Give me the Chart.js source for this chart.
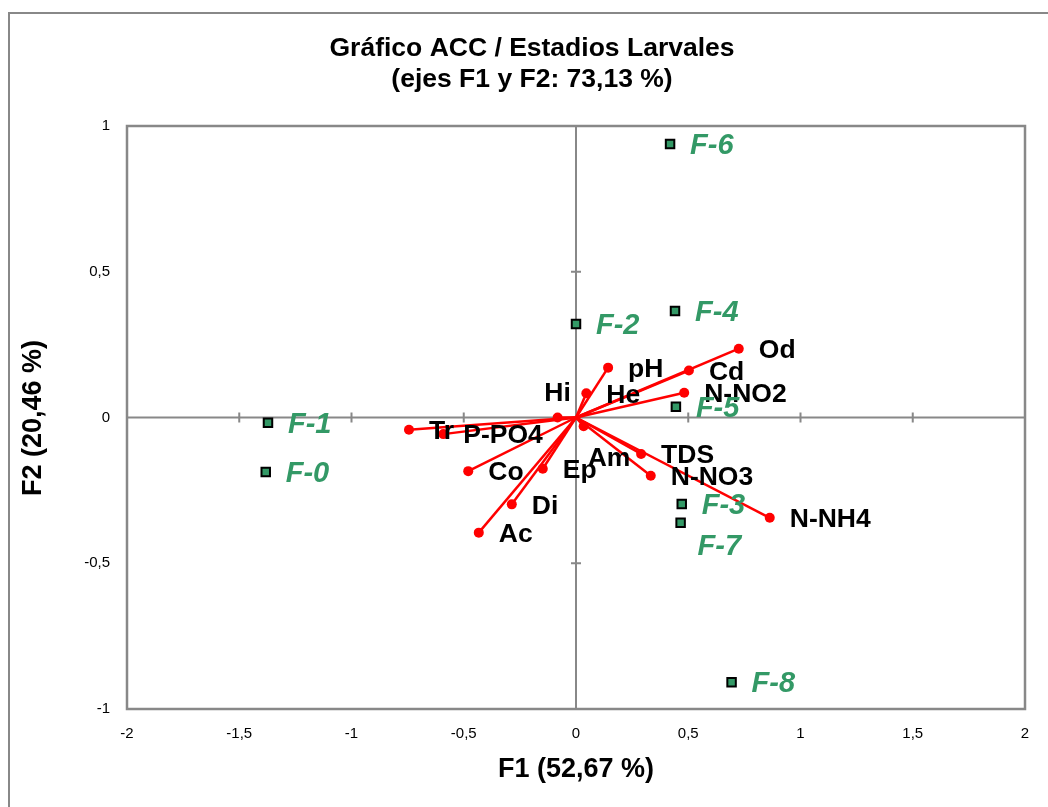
<!DOCTYPE html>
<html>
<head>
<meta charset="utf-8">
<script src="https://cdn.jsdelivr.net/npm/chart.js@4"></script>
<style>
  html, body { margin: 0; padding: 0; background: #fff; }
  #wrap { width: 1048px; height: 807px; }
</style>
</head>
<body>
<div id="wrap"><canvas id="accChart" width="1048" height="807"></canvas></div>
<script>
// sites (estaciones)
const siteLabels = ['F-0', 'F-1', 'F-2', 'F-3', 'F-4', 'F-5', 'F-6', 'F-7', 'F-8'];
const siteF1 = [-1.382, -1.372, 0.000, 0.471, 0.441, 0.445, 0.419, 0.466, 0.693];
const siteF2 = [-0.187, -0.018, 0.321, -0.297, 0.365, 0.037, 0.938, -0.361, -0.908];

// variables
const varLabels = ['Od', 'Cd', 'N-NO2', 'pH', 'He', 'Hi', 'Tr', 'P-PO4', 'Co', 'Ep', 'Di', 'Ac', 'Am', 'TDS', 'N-NO3', 'N-NH4'];
const varF1 = [0.725, 0.503, 0.482, 0.143, 0.046, -0.082, -0.744, -0.591, -0.480, -0.148, -0.286, -0.433, 0.034, 0.290, 0.333, 0.863];
const varF2 = [0.236, 0.161, 0.085, 0.171, 0.083, 0.000, -0.042, -0.057, -0.184, -0.176, -0.298, -0.395, -0.030, -0.125, -0.200, -0.344];

const xTicks = [-2, -1.5, -1, -0.5, 0, 0.5, 1, 1.5, 2];
const yTicks = [-1, -0.5, 0, 0.5, 1];

const GREEN = '#339966';
const GRAY = '#888888';
const FONT = 'Arial, "Liberation Sans", sans-serif';

// a few labels Excel moved away from the default right-hand spot
const labelShift = {
  'Hi': { dx: 0, dy: -24, align: 'center' },
  'Am': { dx: 4, dy: 32, align: 'left' },
  'F-7': { dx: 17, dy: 24, align: 'left' }
};

const fmt = v => String(v).replace('.', ',');

const varSets = varLabels.map((name, i) => ({
  type: 'line',
  label: name,
  data: [{ x: 0, y: 0 }, { x: varF1[i], y: varF2[i] }],
  borderColor: '#ff0000',
  backgroundColor: '#ff0000',
  borderWidth: 2.5,
  pointRadius: [0, 5],
  pointBorderWidth: 0,
  showLine: true,
  fill: false
}));

const siteSet = {
  type: 'scatter',
  label: 'sites',
  data: siteF1.map((x, i) => ({ x: x, y: siteF2[i] })),
  pointStyle: 'rect',
  pointRadius: 6,
  backgroundColor: GREEN,
  borderColor: '#000000',
  pointBorderWidth: 2
};

const framePlugin = {
  id: 'frame',
  beforeDraw(chart) {
    const ctx = chart.ctx;
    ctx.save();
    ctx.strokeStyle = GRAY;
    ctx.lineWidth = 2;
    ctx.beginPath();
    ctx.moveTo(9, 807);
    ctx.lineTo(9, 13);
    ctx.lineTo(1048, 13);
    ctx.stroke();

    // title
    ctx.fillStyle = '#000';
    ctx.textAlign = 'center';
    ctx.textBaseline = 'middle';
    ctx.font = 'bold 26.5px ' + FONT;
    ctx.fillText('Gráfico ACC / Estadios Larvales', 532, 49);
    ctx.fillText('(ejes F1 y F2: 73,13 %)', 532, 80);

    // axis titles
    ctx.font = 'bold 27px ' + FONT;
    ctx.fillText('F1 (52,67 %)', 576, 770);
    ctx.translate(34, 418);
    ctx.rotate(-Math.PI / 2);
    ctx.fillText('F2 (20,46 %)', 0, 0);
    ctx.restore();
  },
  beforeDatasetsDraw(chart) {
    const ctx = chart.ctx;
    const a = chart.chartArea;
    const xs = chart.scales.x, ys = chart.scales.y;
    const x0 = xs.getPixelForValue(0), y0 = ys.getPixelForValue(0);
    ctx.save();
    ctx.strokeStyle = GRAY;
    ctx.lineWidth = 2;
    ctx.beginPath();
    ctx.moveTo(a.left, y0); ctx.lineTo(a.right, y0);
    ctx.moveTo(x0, a.top); ctx.lineTo(x0, a.bottom);
    xTicks.forEach(v => {
      if (v === 0 || Math.abs(v) === 2) return;
      const px = xs.getPixelForValue(v);
      ctx.moveTo(px, y0 - 5); ctx.lineTo(px, y0 + 5);
    });
    yTicks.forEach(v => {
      if (v === 0 || Math.abs(v) === 1) return;
      const py = ys.getPixelForValue(v);
      ctx.moveTo(x0 - 5, py); ctx.lineTo(x0 + 5, py);
    });
    ctx.stroke();
    ctx.lineWidth = 2.5;
    ctx.strokeRect(a.left, a.top, a.right - a.left, a.bottom - a.top);
    ctx.restore();
  },
  afterDatasetsDraw(chart) {
    const ctx = chart.ctx;
    const xs = chart.scales.x, ys = chart.scales.y;
    ctx.save();
    ctx.textBaseline = 'middle';
    const put = (name, x, y) => {
      const s = labelShift[name] || { dx: 20, dy: 2, align: 'left' };
      ctx.textAlign = s.align;
      ctx.fillText(name, xs.getPixelForValue(x) + s.dx, ys.getPixelForValue(y) + s.dy);
    };
    ctx.fillStyle = '#000';
    ctx.font = 'bold 26.5px ' + FONT;
    varLabels.forEach((n, i) => put(n, varF1[i], varF2[i]));
    ctx.fillStyle = GREEN;
    ctx.font = 'italic bold 29px ' + FONT;
    siteLabels.forEach((n, i) => put(n, siteF1[i], siteF2[i]));
    ctx.restore();
  }
};

new Chart(document.getElementById('accChart'), {
  data: { datasets: [siteSet, ...varSets] },
  options: {
    responsive: false,
    animation: false,
    layout: { padding: { top: 126, right: 23, left: 0, bottom: 0 } },
    plugins: {
      legend: { display: false },
      tooltip: { enabled: false },
      title: { display: false }
    },
    scales: {
      x: {
        type: 'linear',
        min: -2, max: 2,
        afterFit: s => { s.height = 98; },
        afterBuildTicks: s => { s.ticks = xTicks.map(v => ({ value: v })); },
        grid: { display: false, drawTicks: false },
        border: { display: false },
        ticks: { padding: 16, color: '#000', font: { family: FONT, size: 15 }, callback: fmt, maxRotation: 0 }
      },
      y: {
        type: 'linear',
        min: -1, max: 1,
        afterFit: s => { s.width = 127; },
        afterBuildTicks: s => { s.ticks = yTicks.map(v => ({ value: v })); },
        grid: { display: false, drawTicks: false },
        border: { display: false },
        ticks: { padding: 17, color: '#000', font: { family: FONT, size: 15 }, callback: fmt }
      }
    }
  },
  plugins: [framePlugin]
});
</script>
</body>
</html>
